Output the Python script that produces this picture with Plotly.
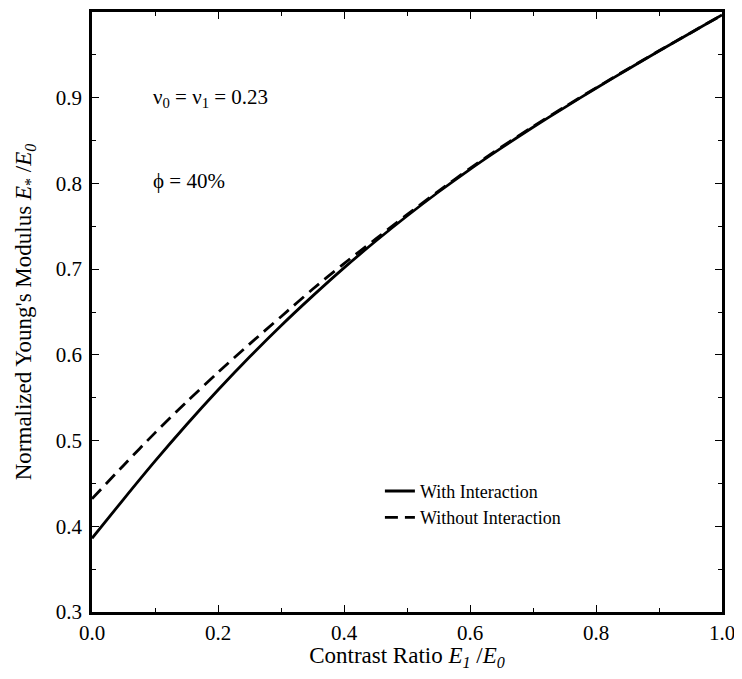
import plotly.graph_objects as go

contrast_with = [0.0, 0.05, 0.1, 0.15, 0.2, 0.25, 0.3, 0.35, 0.4, 0.45, 0.5, 0.55, 0.6,
                 0.65, 0.7, 0.75, 0.8, 0.85, 0.9, 0.95, 1.0]
modulus_with = [0.386, 0.4315, 0.476, 0.5185, 0.559, 0.5975, 0.634, 0.6685, 0.7015, 0.7325,
                0.762, 0.790, 0.8165, 0.8415, 0.8655, 0.8885, 0.911, 0.933, 0.9545, 0.9755, 0.9965]

contrast_without = [0.0, 0.05, 0.1, 0.15, 0.2, 0.25, 0.3, 0.35, 0.4, 0.45, 0.5, 0.55, 0.6,
                    0.65, 0.7, 0.75, 0.8, 0.85, 0.9, 0.95, 1.0]
modulus_without = [0.432, 0.471, 0.509, 0.545, 0.5795, 0.6125, 0.6445, 0.6765, 0.7065, 0.735,
                   0.7635, 0.791, 0.8175, 0.8425, 0.8665, 0.8892, 0.9115, 0.9333, 0.9547, 0.9756, 0.9965]

x_ticks = [0.0, 0.2, 0.4, 0.6, 0.8, 1.0]
y_ticks = [0.3, 0.4, 0.5, 0.6, 0.7, 0.8, 0.9]

FONT = "Liberation Serif"

fig = go.Figure()
fig.add_trace(go.Scatter(x=contrast_with, y=modulus_with, mode="lines",
                         name="With Interaction",
                         line=dict(color="black", width=2.8, shape="spline", smoothing=0.8)))
fig.add_trace(go.Scatter(x=contrast_without, y=modulus_without, mode="lines",
                         name="Without Interaction",
                         line=dict(color="black", width=2.8, dash="13px,7px", shape="spline", smoothing=0.8)))

axis_common = dict(showline=True, linewidth=2.5, linecolor="black", mirror="ticks",
                   ticks="inside", ticklen=7, tickwidth=1, tickcolor="black",
                   showgrid=False, zeroline=False, automargin=False,
                   tickfont=dict(family=FONT, size=21, color="black"))

fig.update_xaxes(range=[0, 1.0], tickvals=x_ticks, tickformat=".1f",
                 minor=dict(dtick=0.1, tick0=0, ticks="inside", ticklen=4, tickcolor="black"),
                 title=dict(text="Contrast Ratio <i>E<sub>1</sub></i> /<i>E<sub>0</sub></i>",
                            font=dict(family=FONT, size=23, color="black"), standoff=10),
                 **axis_common)
fig.update_yaxes(range=[0.3, 1.0], tickvals=y_ticks, tickformat=".1f",
                 ticklabelstandoff=3,
                 minor=dict(dtick=0.05, tick0=0.3, ticks="inside", ticklen=4, tickcolor="black"),
                 title=dict(text="Normalized Young's Modulus <i>E</i><sub>*</sub> /<i>E<sub>0</sub></i>",
                            font=dict(family=FONT, size=23, color="black"), standoff=18),
                 **axis_common)

fig.add_annotation(text="ν<sub>0</sub> = ν<sub>1</sub> = 0.23", xref="paper", yref="paper",
                   x=0.093, y=0.857, xanchor="left", yanchor="middle", showarrow=False,
                   font=dict(family=FONT, size=21, color="black"))
fig.add_annotation(text="\u03d5 = 40%", xref="paper", yref="paper",
                   x=0.093, y=0.718, xanchor="left", yanchor="middle", showarrow=False,
                   font=dict(family=FONT, size=21, color="black"))

fig.update_layout(
    width=733, height=663,
    margin=dict(l=84, r=19, t=4, b=59),
    paper_bgcolor="white", plot_bgcolor="white",
    showlegend=True,
    legend=dict(x=0.457, y=0.232, xanchor="left", yanchor="top",
                bgcolor="rgba(0,0,0,0)", font=dict(family=FONT, size=18, color="black"),
                tracegroupgap=0, itemwidth=30),
)

fig.write_html("out.html")
